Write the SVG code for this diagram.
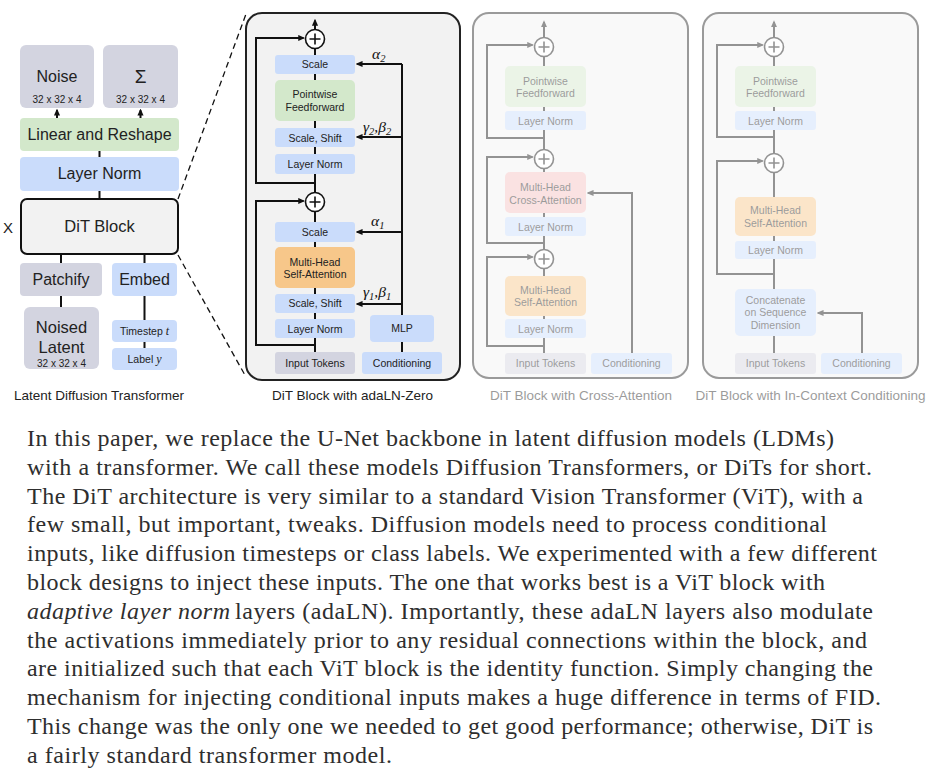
<svg xmlns="http://www.w3.org/2000/svg" width="948" height="776" viewBox="0 0 948 776">
<defs>
<marker id="ah" viewBox="0 0 8 8" refX="6" refY="4" markerWidth="7" markerHeight="7" markerUnits="userSpaceOnUse" orient="auto"><path d="M0,0.5 L8,4 L0,7.5 z" fill="#111"/></marker>
<g id="plus"><circle r="9.5" fill="#fff" stroke="#111" stroke-width="1.6"/><path d="M-5.5,0H5.5M0,-5.5V5.5" stroke="#111" stroke-width="1.6"/></g>
</defs>
<style>
.gray{fill:#d3d4e0}
.blue{fill:#cadcfb}
.green{fill:#d3e8cb}
.orange{fill:#f7c78a}
.pink{fill:#f6c0c0}
.t{font-family:"Liberation Sans",Arial,sans-serif;fill:#222;text-anchor:middle}
.s16{font-size:16px}
.s10{font-size:10.5px}
.s9{font-size:10px}
.cap{font-size:13.5px}
.m{font-family:"Liberation Serif","Times New Roman",serif;font-style:italic}
.ln{stroke:#111;stroke-width:2;fill:none}
.arr{marker-end:url(#ah)}
.dash{stroke:#111;stroke-width:1.3;stroke-dasharray:6 4;fill:none}
.panel{fill:#f2f2f2;stroke:#222;stroke-width:2}
.body{font-family:"Liberation Serif","Times New Roman",serif;font-size:24px;fill:#2e2e2e}
</style>
<rect width="948" height="776" fill="#fff"/>

<!-- LEFT: Latent Diffusion Transformer -->
<g id="left-connectors">
<path class="ln arr" d="M57,118V110.3" stroke-width="1.5"/>
<path class="ln arr" d="M140.5,118V110.3" stroke-width="1.5"/>
<path class="ln" d="M99.5,151V157M99.5,191V199M61,254V263M144.5,254V263M61,296V307M144.5,296V320M144.5,342V348"/>
<path class="dash" d="M178,199L246,14M178,255L246,377"/>
</g>
<g id="noise"><rect class="gray" x="20" y="45" width="74" height="63" rx="6"/><text class="t s16" x="57" y="82">Noise</text><text class="t s9" x="57" y="103">32 x 32 x 4</text></g>
<g id="sigma"><rect class="gray" x="103" y="45" width="75" height="63" rx="6"/><text class="t" x="140.5" y="83" font-size="19">Σ</text><text class="t s9" x="140.5" y="103">32 x 32 x 4</text></g>
<g id="linear"><rect class="green" x="20" y="118" width="159" height="33" rx="4"/><text class="t s16" x="99.5" y="140">Linear and Reshape</text></g>
<g id="layernorm-out"><rect class="blue" x="20" y="157" width="159" height="34" rx="4"/><text class="t s16" x="99.5" y="179">Layer Norm</text></g>
<g id="dit-block"><rect x="21" y="199" width="157" height="55" rx="6" fill="#f2f2f2" stroke="#111" stroke-width="2"/><text class="t" x="99.5" y="232" font-size="16.5">DiT Block</text><text class="t" x="8" y="233" font-size="15">X</text></g>
<g id="patchify"><rect class="gray" x="20" y="263" width="82" height="33" rx="4"/><text class="t s16" x="61" y="285">Patchify</text></g>
<g id="embed"><rect class="blue" x="112" y="263" width="65" height="33" rx="4"/><text class="t s16" x="144.5" y="285">Embed</text></g>
<g id="noised-latent"><rect class="gray" x="24" y="307" width="75" height="62" rx="6"/><text class="t" x="61.5" y="333" font-size="16.5">Noised</text><text class="t" x="61.5" y="352.5" font-size="16.5">Latent</text><text class="t s9" x="61.5" y="366.5">32 x 32 x 4</text></g>
<g id="timestep"><rect class="blue" x="112" y="320" width="65" height="22" rx="4"/><text class="t s10" x="144.5" y="335">Timestep <tspan class="m" font-size="12">t</tspan></text></g>
<g id="label"><rect class="blue" x="112" y="348" width="65" height="22" rx="4"/><text class="t s10" x="144.5" y="363">Label <tspan class="m" font-size="12">y</tspan></text></g>
<text class="t cap" x="99" y="400">Latent Diffusion Transformer</text>

<!-- MIDDLE: adaLN-Zero -->
<g id="adaln-panel"><rect class="panel" x="246" y="13" width="214" height="367" rx="16"/></g>
<g id="adaln-connectors">
<path class="ln arr" d="M315,352V20.5"/>
<path class="ln arr" d="M315,345H256V201H303.5"/>
<path class="ln arr" d="M315,183H256V38H303.5"/>
<path class="ln" d="M402,352V342M402,315V64"/>
<path class="ln arr" d="M402,64H357.3"/>
<path class="ln arr" d="M402,137H357.3"/>
<path class="ln arr" d="M402,232H357.3"/>
<path class="ln arr" d="M402,304H357.3"/>
</g>
<g id="a-plus-top"><use href="#plus" x="315" y="39"/></g>
<g id="a-plus-mid"><use href="#plus" x="315" y="202"/></g>
<g id="a-scale2"><rect class="blue" x="275" y="55" width="80" height="19" rx="3"/><text class="t s10" x="315" y="68">Scale</text></g>
<g id="a-ff"><rect class="green" x="275" y="80" width="80" height="41" rx="5"/><text class="t s10" x="315" y="98">Pointwise</text><text class="t s10" x="315" y="110.5">Feedforward</text></g>
<g id="a-ss2"><rect class="blue" x="275" y="128" width="80" height="19" rx="3"/><text class="t s10" x="315" y="141.5">Scale, Shift</text></g>
<g id="a-ln2"><rect class="blue" x="275" y="154" width="80" height="20" rx="3"/><text class="t s10" x="315" y="167.5">Layer Norm</text></g>
<g id="a-scale1"><rect class="blue" x="275" y="222" width="80" height="20" rx="3"/><text class="t s10" x="315" y="235.5">Scale</text></g>
<g id="a-mhsa"><rect class="orange" x="275" y="247" width="80" height="41" rx="5"/><text class="t s10" x="315" y="265.5">Multi-Head</text><text class="t s10" x="315" y="278">Self-Attention</text></g>
<g id="a-ss1"><rect class="blue" x="275" y="294" width="80" height="19" rx="3"/><text class="t s10" x="315" y="307">Scale, Shift</text></g>
<g id="a-ln1"><rect class="blue" x="275" y="319" width="80" height="19" rx="3"/><text class="t s10" x="315" y="332.5">Layer Norm</text></g>
<g id="a-input"><rect class="gray" x="275" y="352" width="80" height="22" rx="3"/><text class="t s10" x="315" y="366.5">Input Tokens</text></g>
<g id="a-mlp"><rect class="blue" x="370" y="315" width="64" height="27" rx="4"/><text class="t s10" x="402" y="332">MLP</text></g>
<g id="a-cond"><rect class="blue" x="362" y="352" width="80" height="22" rx="3"/><text class="t s10" x="402" y="366.5">Conditioning</text></g>
<g id="a-labels" font-size="15.5" fill="#111">
<text class="m" x="372" y="59">α<tspan font-size="10.5" dy="3">2</tspan></text>
<text class="m" x="363" y="132">γ<tspan font-size="10.5" dy="3">2</tspan><tspan dy="-3">,β</tspan><tspan font-size="10.5" dy="3">2</tspan></text>
<text class="m" x="371" y="226">α<tspan font-size="10.5" dy="3">1</tspan></text>
<text class="m" x="363" y="297">γ<tspan font-size="10.5" dy="3">1</tspan><tspan dy="-3">,β</tspan><tspan font-size="10.5" dy="3">1</tspan></text>
</g>
<text class="t cap" x="352.5" y="400">DiT Block with adaLN-Zero</text>

<!-- CROSS-ATTENTION (faded) -->
<g id="cross-attention" opacity="0.45">
<g id="c-panel"><rect class="panel" x="473" y="13" width="215" height="365" rx="16"/></g>
<g id="c-connectors">
<path class="ln arr" d="M544,353V22"/>
<path class="ln arr" d="M544,138H487V45H532.5"/>
<path class="ln arr" d="M544,243H487V157H532.5"/>
<path class="ln arr" d="M544,346H487V257H532.5"/>
<path class="ln arr" d="M632,353V193H588.3"/>
</g>
<g id="c-plus1"><use href="#plus" x="544" y="47"/></g>
<g id="c-plus2"><use href="#plus" x="544" y="159"/></g>
<g id="c-plus3"><use href="#plus" x="544" y="259"/></g>
<g id="c-ff"><rect class="green" x="505" y="66" width="81" height="41" rx="5"/><text class="t s10" x="545.5" y="84.5">Pointwise</text><text class="t s10" x="545.5" y="97">Feedforward</text></g>
<g id="c-ln3"><rect class="blue" x="505" y="111" width="81" height="19" rx="3"/><text class="t s10" x="545.5" y="124.5">Layer Norm</text></g>
<g id="c-ca"><rect class="pink" x="505" y="172" width="81" height="41" rx="5"/><text class="t s10" x="545.5" y="191">Multi-Head</text><text class="t s10" x="545.5" y="203.5">Cross-Attention</text></g>
<g id="c-ln2"><rect class="blue" x="505" y="217" width="81" height="19" rx="3"/><text class="t s10" x="545.5" y="230.5">Layer Norm</text></g>
<g id="c-sa"><rect class="orange" x="505" y="276" width="81" height="40" rx="5"/><text class="t s10" x="545.5" y="293.5">Multi-Head</text><text class="t s10" x="545.5" y="306">Self-Attention</text></g>
<g id="c-ln1"><rect class="blue" x="505" y="319" width="81" height="19" rx="3"/><text class="t s10" x="545.5" y="332.5">Layer Norm</text></g>
<g id="c-input"><rect class="gray" x="505" y="353" width="81" height="21" rx="3"/><text class="t s10" x="545.5" y="367">Input Tokens</text></g>
<g id="c-cond"><rect class="blue" x="591" y="353" width="81" height="21" rx="3"/><text class="t s10" x="631.5" y="367">Conditioning</text></g>
<text class="t cap" x="581" y="400">DiT Block with Cross-Attention</text>
</g>

<!-- IN-CONTEXT (faded) -->
<g id="in-context" opacity="0.45">
<g id="i-panel"><rect class="panel" x="703" y="13" width="215" height="365" rx="16"/></g>
<g id="i-connectors">
<path class="ln arr" d="M774,353V22"/>
<path class="ln arr" d="M774,137H717V45H762.5"/>
<path class="ln arr" d="M774,274H717V161H762.5"/>
<path class="ln arr" d="M862,353V313H818.3"/>
</g>
<g id="i-plus1"><use href="#plus" x="774" y="47"/></g>
<g id="i-plus2"><use href="#plus" x="774" y="163"/></g>
<g id="i-ff"><rect class="green" x="735" y="66" width="81" height="41" rx="5"/><text class="t s10" x="775.5" y="84.5">Pointwise</text><text class="t s10" x="775.5" y="97">Feedforward</text></g>
<g id="i-ln2"><rect class="blue" x="735" y="111" width="81" height="19" rx="3"/><text class="t s10" x="775.5" y="124.5">Layer Norm</text></g>
<g id="i-sa"><rect class="orange" x="735" y="197" width="81" height="39" rx="5"/><text class="t s10" x="775.5" y="214">Multi-Head</text><text class="t s10" x="775.5" y="226.5">Self-Attention</text></g>
<g id="i-ln1"><rect class="blue" x="735" y="241" width="81" height="18" rx="3"/><text class="t s10" x="775.5" y="254">Layer Norm</text></g>
<g id="i-concat"><rect class="blue" x="735" y="289" width="81" height="47" rx="5"/><text class="t s10" x="775.5" y="303.5">Concatenate</text><text class="t s10" x="775.5" y="316">on Sequence</text><text class="t s10" x="775.5" y="328.5">Dimension</text></g>
<g id="i-input"><rect class="gray" x="735" y="353" width="81" height="21" rx="3"/><text class="t s10" x="775.5" y="367">Input Tokens</text></g>
<g id="i-cond"><rect class="blue" x="821" y="353" width="81" height="21" rx="3"/><text class="t s10" x="861.5" y="367">Conditioning</text></g>
<text class="t cap" x="810.5" y="400">DiT Block with In-Context Conditioning</text>
</g>

<!-- BODY TEXT -->
<g id="body-text" class="body">
<text x="27" y="446" textLength="807">In this paper, we replace the U-Net backbone in latent diffusion models (LDMs)</text>
<text x="27" y="474.8" textLength="845">with a transformer. We call these models Diffusion Transformers, or DiTs for short.</text>
<text x="27" y="503.6" textLength="836">The DiT architecture is very similar to a standard Vision Transformer (ViT), with a</text>
<text x="27" y="532.4" textLength="800">few small, but important, tweaks. Diffusion models need to process conditional</text>
<text x="27" y="561.2" textLength="850">inputs, like diffusion timesteps or class labels. We experimented with a few different</text>
<text x="27" y="590" textLength="798">block designs to inject these inputs. The one that works best is a ViT block with</text>
<text x="27" y="618.8" textLength="203" font-style="italic">adaptive layer norm</text>
<text x="235" y="618.8" textLength="638">layers (adaLN). Importantly, these adaLN layers also modulate</text>
<text x="27" y="647.6" textLength="840">the activations immediately prior to any residual connections within the block, and</text>
<text x="27" y="676.4" textLength="846">are initialized such that each ViT block is the identity function. Simply changing the</text>
<text x="27" y="705.2" textLength="854">mechanism for injecting conditional inputs makes a huge difference in terms of FID.</text>
<text x="27" y="734" textLength="846">This change was the only one we needed to get good performance; otherwise, DiT is</text>
<text x="27" y="762.8" textLength="365">a fairly standard transformer model.</text>
</g>
</svg>
